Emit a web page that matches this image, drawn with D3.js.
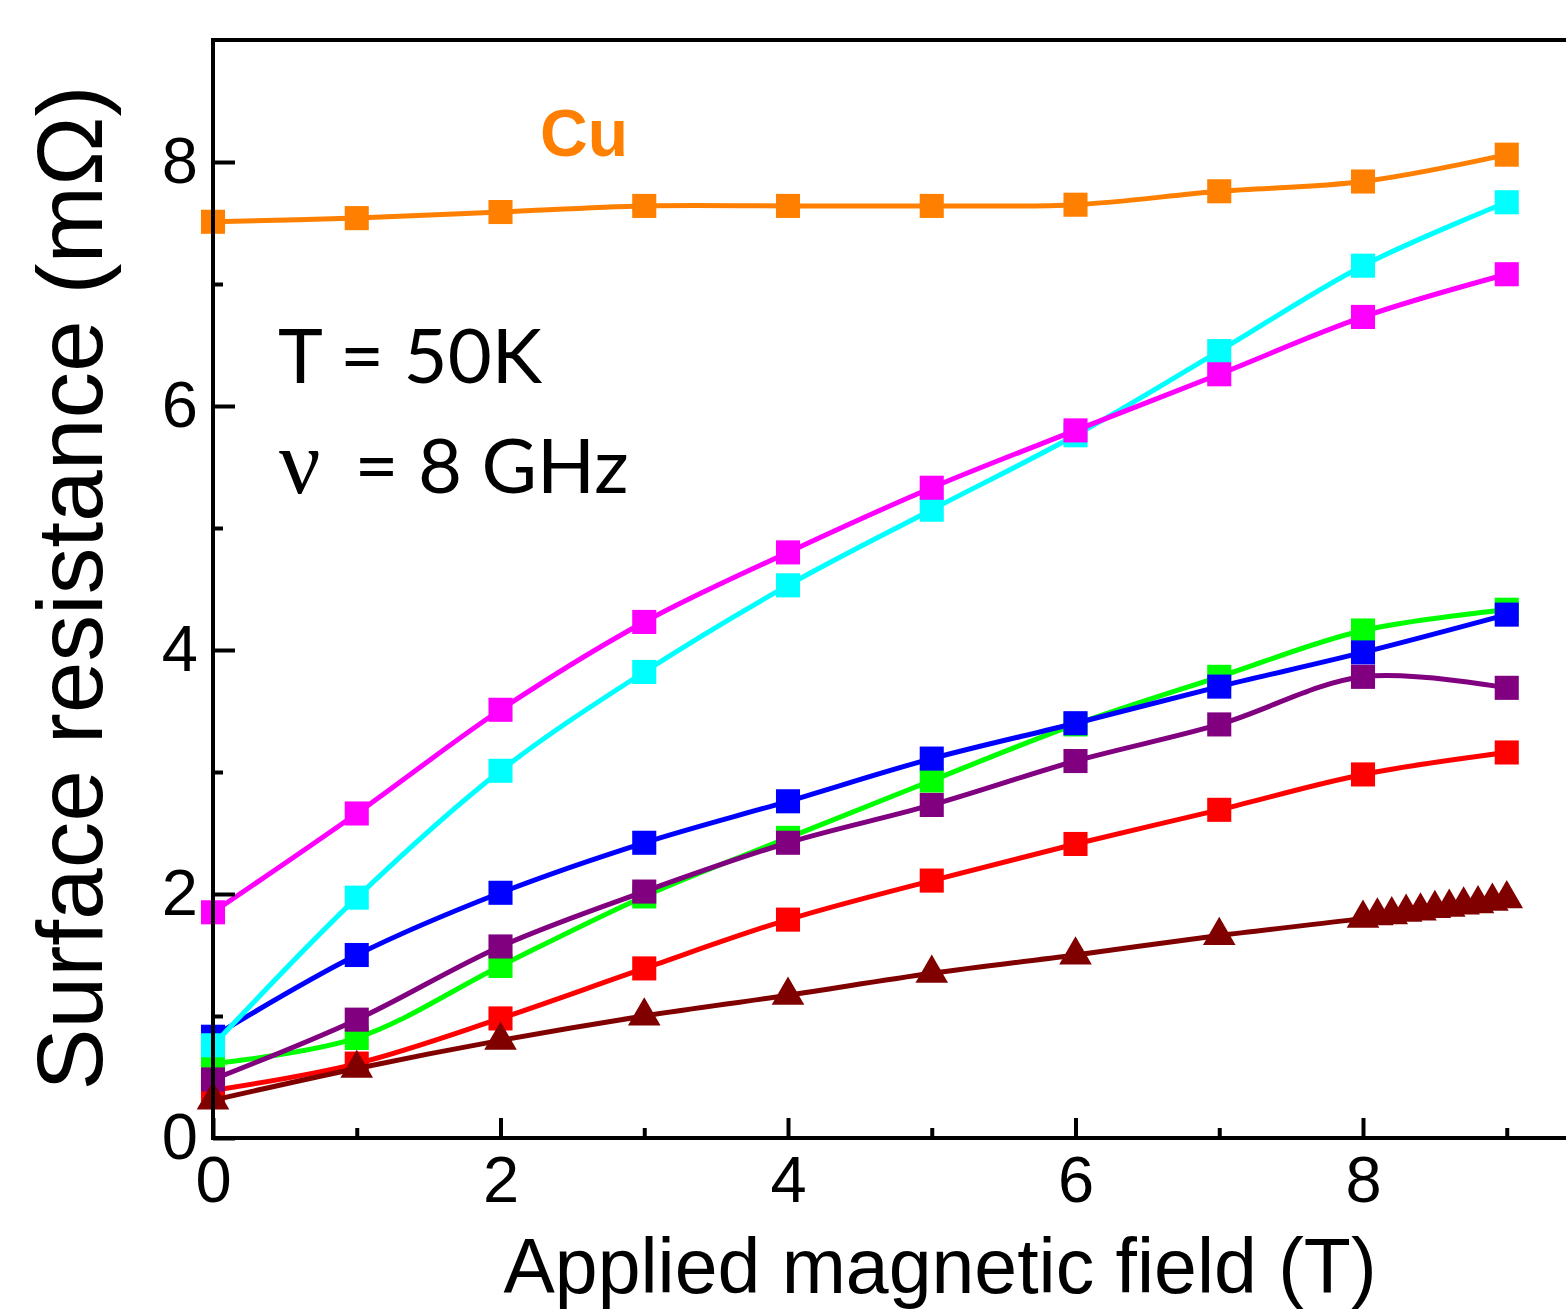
<!DOCTYPE html>
<html>
<head>
<meta charset="utf-8">
<script src="https://cdn.jsdelivr.net/npm/d3@7"></script>
<style>
  body { margin: 0; background: #fff; }
  svg { display: block; font-family: "Liberation Sans", Arial, sans-serif; }
</style>
</head>
<body>
<div id="root"></div>
<script>
// Size of the picture
const width = 1566;
const height = 1312;
const margin = { left: 213, top: 40, bottom: 174 };

// Field values (T)
const fields = [0, 1, 2, 3, 4, 5, 6, 7, 8, 9];
const fieldsFine = [0, 1, 2, 3, 4, 5, 6, 7, 8, 8.1, 8.2, 8.3, 8.4, 8.5, 8.6, 8.7, 8.8, 8.9, 9];

// Surface resistance (mOhm) for each sample
const cuValues = [7.51, 7.54, 7.59, 7.64, 7.64, 7.64, 7.65, 7.76, 7.84, 8.06];
const redValues = [0.39, 0.61, 0.98, 1.39, 1.79, 2.11, 2.41, 2.69, 2.98, 3.16];
const greenValues = [0.61, 0.82, 1.41, 1.98, 2.46, 2.93, 3.39, 3.78, 4.16, 4.33];
const blueValues = [0.83, 1.5, 2.01, 2.42, 2.76, 3.11, 3.4, 3.7, 3.98, 4.29];
const purpleValues = [0.48, 0.97, 1.57, 2.02, 2.42, 2.73, 3.09, 3.39, 3.78, 3.69];
const cyanValues = [0.76, 1.97, 3.01, 3.82, 4.53, 5.15, 5.76, 6.45, 7.15, 7.67];
const magentaValues = [1.85, 2.66, 3.51, 4.23, 4.8, 5.33, 5.8, 6.26, 6.73, 7.08];
const darkredValues = [0.31, 0.57, 0.8, 1.0, 1.17, 1.35, 1.5, 1.66, 1.8,
  1.82, 1.83, 1.85, 1.86, 1.88, 1.89, 1.91, 1.92, 1.94, 1.96];

// Tick labels
const xMajorTicks = [0, 2, 4, 6, 8];
const xMinorTicks = [1, 3, 5, 7, 9];
const yMajorTicks = [0, 2, 4, 6, 8];
const yMinorTicks = [1, 3, 5, 7];

const svg = d3
  .select("#root")
  .append("svg")
  .attr("width", width)
  .attr("height", height);

// Scales
const xScale = d3.scaleLinear().domain([0, 9.5]).range([margin.left, margin.left + 9.5 * 143.75]);
const yScale = d3.scaleLinear().domain([0, 9]).range([height - margin.bottom, margin.top]);

const line = d3
  .line()
  .x(d => xScale(d.x))
  .y(d => yScale(d.y))
  .curve(d3.curveCatmullRom.alpha(0.5));

function pair(xs, ys) {
  return xs.map((x, i) => ({ x: x, y: ys[i] }));
}

function createSeries(data, color, shape) {
  svg
    .append("path")
    .datum(data)
    .attr("fill", "none")
    .attr("stroke", color)
    .attr("stroke-width", 5)
    .attr("d", line);

  const symbol = shape === "triangle"
    ? d3.symbol().type(d3.symbolTriangle).size(460)
    : d3.symbol().type(d3.symbolSquare).size(580);

  svg
    .append("g")
    .selectAll("path")
    .data(data)
    .enter()
    .append("path")
    .attr("transform", d => "translate(" + xScale(d.x) + "," + yScale(d.y) + ")")
    .attr("d", symbol)
    .attr("fill", color);
}

// Series, drawn bottom to top
createSeries(pair(fields, cuValues), "#ff8000", "square");
createSeries(pair(fields, redValues), "#ff0000", "square");
createSeries(pair(fields, greenValues), "#00ff00", "square");
createSeries(pair(fields, blueValues), "#0000ff", "square");
createSeries(pair(fields, purpleValues), "#800080", "square");
createSeries(pair(fields, cyanValues), "#00ffff", "square");
createSeries(pair(fields, magentaValues), "#ff00ff", "square");
createSeries(pair(fieldsFine, darkredValues), "#800000", "triangle");

// Axes (ticks point inward)
const y0 = height - margin.bottom;

svg
  .append("g")
  .attr("transform", "translate(0," + y0 + ")")
  .call(d3.axisBottom(xScale).tickValues(xMajorTicks).tickSizeInner(-20).tickSizeOuter(0).tickPadding(18))
  .call(g => g.select(".domain").remove());

svg
  .append("g")
  .attr("transform", "translate(0," + y0 + ")")
  .call(d3.axisBottom(xScale).tickValues(xMinorTicks).tickSizeInner(-10).tickSizeOuter(0).tickFormat(""))
  .call(g => g.select(".domain").remove());

svg
  .append("g")
  .attr("transform", "translate(" + margin.left + ",0)")
  .call(d3.axisLeft(yScale).tickValues(yMajorTicks).tickSizeInner(-22).tickSizeOuter(0).tickPadding(15))
  .call(g => g.select(".domain").remove());

svg
  .append("g")
  .attr("transform", "translate(" + margin.left + ",0)")
  .call(d3.axisLeft(yScale).tickValues(yMinorTicks).tickSizeInner(-10).tickSizeOuter(0).tickFormat(""))
  .call(g => g.select(".domain").remove());

svg.selectAll(".tick line").attr("stroke", "#000").attr("stroke-width", 4);
svg.selectAll(".tick text").attr("fill", "#000").attr("font-size", 65).attr("font-family", "Liberation Sans, Arial, sans-serif");

// Frame
svg
  .append("rect")
  .attr("x", xScale(0))
  .attr("y", yScale(9))
  .attr("width", xScale(9.5) - xScale(0))
  .attr("height", yScale(0) - yScale(9))
  .attr("fill", "none")
  .attr("stroke", "#000")
  .attr("stroke-width", 4);

// Axis titles
svg
  .append("text")
  .attr("x", 940)
  .attr("y", 1293)
  .attr("text-anchor", "middle")
  .attr("font-size", 77)
  .text("Applied magnetic field (T)");

svg
  .append("text")
  .attr("transform", "translate(102,588) rotate(-90)")
  .attr("text-anchor", "middle")
  .attr("font-size", 93)
  .text("Surface resistance (m\u03A9)");

// Annotations
svg
  .append("text")
  .attr("x", 540)
  .attr("y", 156)
  .attr("font-size", 66)
  .attr("font-weight", "bold")
  .attr("fill", "#ff8000")
  .text("Cu");

svg
  .append("text")
  .attr("x", 278)
  .attr("y", 383)
  .attr("font-size", 76)
  .attr("font-family", "Lato, sans-serif")
  .text("T = 50K");

const nu = svg
  .append("text")
  .attr("x", 279)
  .attr("y", 493)
  .attr("font-size", 76)
  .attr("font-family", "Lato, sans-serif");
nu.append("tspan").attr("font-family", "Liberation Serif, serif").attr("font-size", 92).text("\u03BD");
nu.append("tspan").attr("x", 335).text(" = 8 GHz");
</script>
</body>
</html>
